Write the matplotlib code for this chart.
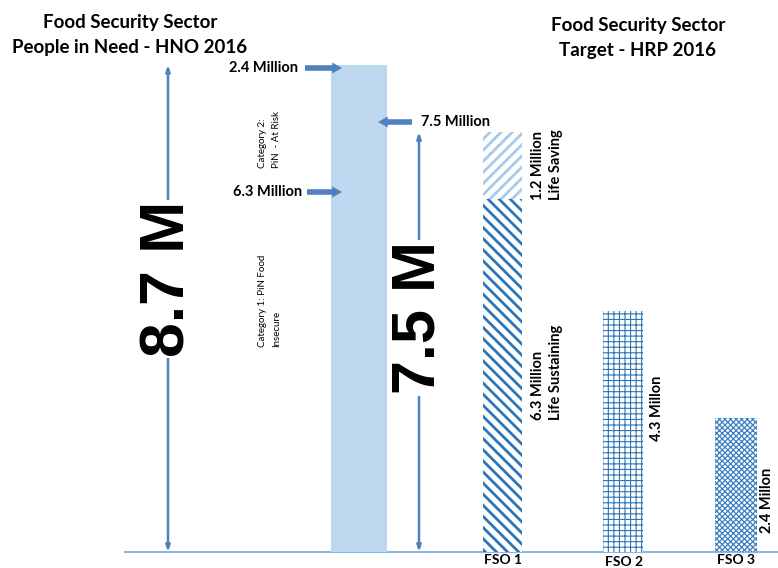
import matplotlib
matplotlib.use('Agg')
import matplotlib.pyplot as plt

# people in need (millions)
pin_parts = [6.3, 2.4]
pin_part_lines = [['Category 1: PiN Food', 'Insecure'], ['Category 2:', 'PiN  - At Risk']]
pin_arrow_labels = ['6.3 Million', '2.4 Million']
pin_total_label = '8.7 M'

# targets (millions)
target_total = 7.5
target_total_label = '7.5 M'
fso_names = ['FSO 1', 'FSO 2', 'FSO 3']
fso1_parts = [6.3, 1.2]
fso1_part_labels = ['6.3 Million\nLife Sustaining', '1.2 Million\nLife Saving']
fso_other_values = [4.3, 2.4]
fso_other_labels = ['4.3 Millon', '2.4 Millon']

BASE = 552      # pixel row of the baseline
SCALE = 56.0    # pixels per million
ARW = '#4F81BD'
DARK = '#2E75B6'
LIGHT = '#BDD7EE'
TXT = ['Lato', 'DejaVu Sans']
BIG = ['Liberation Sans', 'DejaVu Sans']


def yv(px):
    """pixel row -> value on the y axis"""
    return (BASE - px) / SCALE


fig = plt.figure(figsize=(7.78, 5.68), dpi=100)
ax = fig.add_axes([0, 0, 1, 1])
ax.set_xlim(0, 778)
ax.set_ylim(yv(568), yv(0))
ax.axis('off')


def hatched_bar(x, h, w, bottom, hatch, color, hlw):
    with plt.rc_context({'hatch.linewidth': hlw}):
        b = ax.bar(x, h, width=w, bottom=bottom, facecolor='white',
                   edgecolor=color, linewidth=0, hatch=hatch)[0]
    if hasattr(b, 'set_hatch_linewidth'):
        b.set_hatch_linewidth(hlw)
    return b


# baseline
ax.plot([125, 778], [0, 0], color='#8DB4E2', lw=1.5, zorder=1)

# people in need bar
ax.bar(359, sum(pin_parts), width=56, color=LIGHT, linewidth=0)

# FSO bars
hatched_bar(502.5, fso1_parts[0], 39, 0, '\\\\\\', DARK, 2.0)
hatched_bar(502.5, fso1_parts[1], 39, fso1_parts[0], '///', '#A7CAEA', 2.0)
hatched_bar(623.5, fso_other_values[0], 40, 0, '+++', DARK, 0.8)
hatched_bar(736, fso_other_values[1], 42, 0, 'xxxxxx', '#3C7FC0', 0.9)

# dimension lines
dim = dict(arrowstyle='<|-|>,head_length=0.35,head_width=0.12', color=ARW,
           lw=1.8, shrinkA=0, shrinkB=0)
ax.annotate('', xy=(168, sum(pin_parts)), xytext=(168, 0), arrowprops=dim)
ax.annotate('', xy=(419, target_total), xytext=(419, 0), arrowprops=dim)
ax.text(168, yv(279), pin_total_label, rotation=90, ha='center', va='center',
        fontsize=45, fontweight='bold', family=BIG, zorder=5,
        bbox=dict(fc='white', ec='none', pad=1))
ax.text(419, yv(318), target_total_label, rotation=90, ha='center', va='center',
        fontsize=44, fontweight='bold', family=BIG, zorder=5,
        bbox=dict(fc='white', ec='none', pad=1))

# label arrows
pointer = dict(arrowstyle='simple,head_length=0.7,head_width=0.8,tail_width=0.4',
               color=ARW, lw=0, shrinkA=0, shrinkB=0, mutation_scale=10)
ax.annotate('', xy=(342, yv(68)), xytext=(305, yv(68)), arrowprops=pointer)
ax.annotate('', xy=(342, yv(192)), xytext=(307, yv(192)), arrowprops=pointer)
ax.annotate('', xy=(378, yv(122)), xytext=(412, yv(122)), arrowprops=pointer)
ax.text(298, yv(68), pin_arrow_labels[1], ha='right', va='center',
        fontsize=10.5, fontweight='bold', family=TXT)
ax.text(302, yv(192), pin_arrow_labels[0], ha='right', va='center',
        fontsize=10.5, fontweight='bold', family=TXT)
ax.text(421, yv(122), '7.5 Million', ha='left', va='center',
        fontsize=10.5, fontweight='bold', family=TXT)

# category notes, one text per line
for lines, bottom in zip(pin_part_lines, [347, 168]):
    for x, line in zip([263, 277], lines):
        ax.text(x, yv(bottom), line, rotation=90, ha='center', va='bottom',
                fontsize=7, family=TXT)

# FSO labels
ax.text(547, yv(200), fso1_part_labels[1], rotation=90, ha='center', va='bottom',
        multialignment='left', fontsize=10.5, fontweight='bold', family=TXT,
        linespacing=1.3)
ax.text(547, yv(420), fso1_part_labels[0], rotation=90, ha='center', va='bottom',
        multialignment='left', fontsize=10.5, fontweight='bold', family=TXT,
        linespacing=1.3)
ax.text(657, yv(408), fso_other_labels[0], rotation=90, ha='center', va='center',
        fontsize=10.5, fontweight='bold', family=TXT)
ax.text(767, yv(500), fso_other_labels[1], rotation=90, ha='center', va='center',
        fontsize=10.5, fontweight='bold', family=TXT)
for x, y, name in zip([503, 624, 736], [560, 562, 560], fso_names):
    ax.text(x, yv(y), name, ha='center', va='center', fontsize=10,
            fontweight='bold', family=TXT)

# titles
ax.text(130, yv(22), 'Food Security Sector', ha='center', va='center',
        fontsize=13.5, fontweight='bold', family=TXT)
ax.text(130, yv(47), 'People in Need - HNO 2016', ha='center', va='center',
        fontsize=13.5, fontweight='bold', family=TXT)
ax.text(638, yv(25), 'Food Security Sector', ha='center', va='center',
        fontsize=13.5, fontweight='bold', family=TXT)
ax.text(638, yv(50), 'Target - HRP 2016', ha='center', va='center',
        fontsize=13.5, fontweight='bold', family=TXT)

fig.savefig('out.png', dpi=100)
